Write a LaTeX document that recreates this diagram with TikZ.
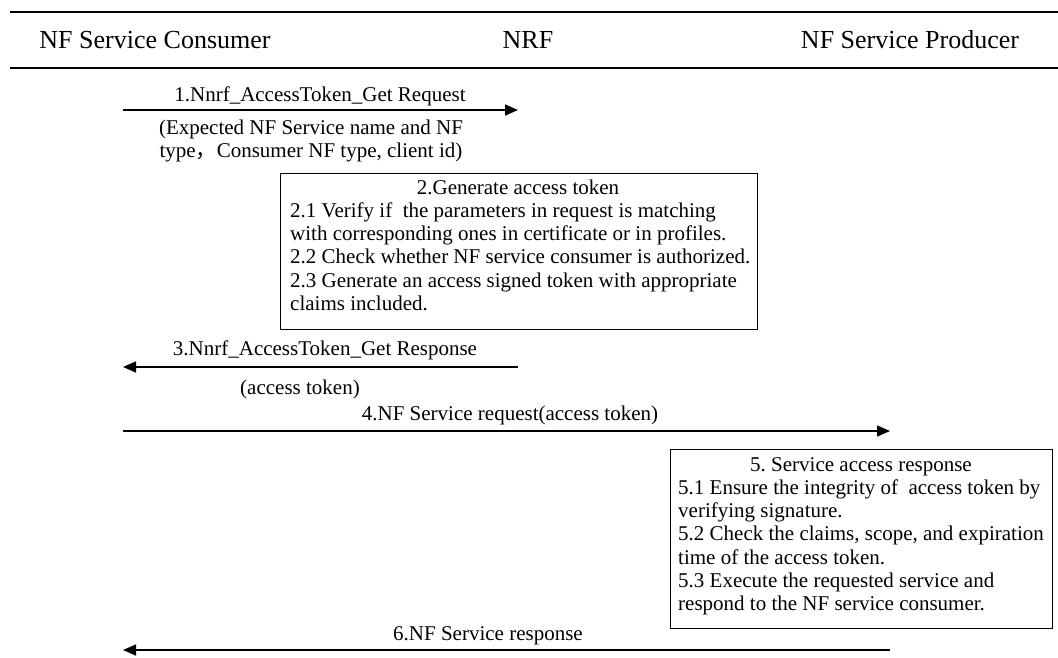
\documentclass[tikz,border=0pt]{standalone}
\usepackage{fontspec}
\setmainfont{Liberation Serif}
\newfontfamily\cjk{Noto Sans CJK SC}
\usetikzlibrary{arrows.meta}
\frenchspacing
\begin{document}
\begin{tikzpicture}[x=1pt,y=-1pt,
  hdr/.style={font=\fontsize{26}{30}\selectfont, inner sep=0pt, anchor=base},
  lbl/.style={font=\fontsize{21}{25}\selectfont, inner sep=0pt, anchor=base},
  txt/.style={lbl, anchor=base west},
  rule/.style={line width=2.5pt},
  msg/.style={line width=1.6pt, -{Triangle[length=13pt,width=11pt]}},
  stepbox/.style={draw, line width=1pt, inner sep=0pt, anchor=north west}]
\useasboundingbox (0,0) rectangle (1058,657);
% header
\draw[rule] (10,12) -- (1058,12);
\draw[rule] (10,68) -- (1058,68);
\node[hdr] (hc) at (155,48) {NF Service Consumer};
\node[hdr] (hn) at (528,48) {NRF};
\node[hdr] (hp) at (910,48) {NF Service Producer};
% lifeline end points
\coordinate (c1) at (123,110); \coordinate (n1) at (518,110);
\coordinate (n3) at (518,367); \coordinate (c3) at (123,367);
\coordinate (c4) at (123,431); \coordinate (p4) at (890,431);
\coordinate (p6) at (890,650); \coordinate (c6) at (123,650);
% message 1
\node[lbl] (m1) at (320,101) {1.Nnrf\_AccessToken\_Get Request};
\draw[msg] (c1) -- (n1);
\node[lbl] (m1a) at (311,134) {(Expected NF Service name and NF};
\node[lbl] (m1b) at (311,157) {type{\cjk ，}Consumer NF type, client id)};
% step 2
\node[stepbox, minimum width=477pt, minimum height=156pt] (gen) at (280,173) {};
\node[lbl] (g0) at (518,194) {2.Generate access token};
\node[txt] (g1) at (290,217) {2.1 Verify if\ \ the parameters in request is matching};
\node[txt] (g2) at (290,240) {with corresponding ones in certificate or in profiles.};
\node[txt] (g3) at (290,263) {2.2 Check whether NF service consumer is authorized.};
\node[txt] (g4) at (290,287) {2.3 Generate an access signed token with appropriate};
\node[txt] (g5) at (290,310) {claims included.};
% message 3
\node[lbl] (m3) at (325,355) {3.Nnrf\_AccessToken\_Get Response};
\draw[msg] (n3) -- (c3);
\node[lbl] (m3a) at (300,394) {(access token)};
% message 4
\node[lbl] (m4) at (510,420) {4.NF Service request(access token)};
\draw[msg] (c4) -- (p4);
% step 5
\node[stepbox, minimum width=382pt, minimum height=179pt] (acc) at (670,449) {};
\node[lbl] (s0) at (861,471) {5. Service access response};
\node[txt] (s1) at (678,494) {5.1 Ensure the integrity of\ \ access token by};
\node[txt] (s2) at (678,517) {verifying signature.};
\node[txt] (s3) at (678,540) {5.2 Check the claims, scope, and expiration};
\node[txt] (s4) at (678,564) {time of the access token.};
\node[txt] (s5) at (678,587) {5.3 Execute the requested service and};
\node[txt] (s6) at (678,610) {respond to the NF service consumer.};
% message 6
\node[lbl] (m6) at (488,640) {6.NF Service response};
\draw[msg] (p6) -- (c6);
\end{tikzpicture}
\end{document}
